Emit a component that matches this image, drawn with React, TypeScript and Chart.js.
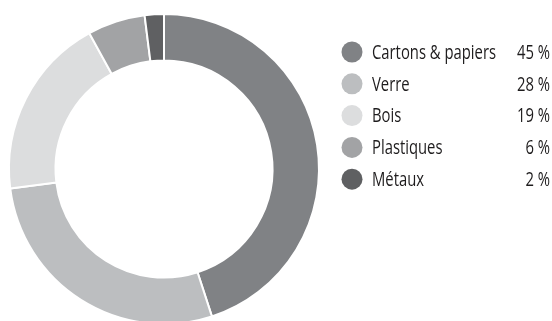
import React, { useEffect, useRef } from "react";
import { Chart, registerables } from "chart.js";

Chart.register(...registerables);

const categories = ["Cartons & papiers", "Verre", "Bois", "Plastiques", "Métaux"];
const shares = [45, 28, 19, 6, 2];
const shareLabels = ["45 %", "28 %", "19 %", "6 %", "2 %"];
const colors = ["#808285", "#bcbec0", "#dcddde", "#a2a3a5", "#5f6062"];

const W = 552;
const H = 340;

const legendPlugin = {
  id: "sideLegend",
  afterDraw(chart: any) {
    const ctx = chart.ctx as CanvasRenderingContext2D;
    const labels = chart.data.labels as string[];
    const ds = chart.data.datasets[0];
    ctx.save();
    ctx.font = "20px 'Open Sans', 'Noto Sans', sans-serif";
    ctx.textBaseline = "middle";
    // condense the humanist face horizontally to mimic a condensed typeface
    const sx = 124 / ctx.measureText(labels[0]).width;
    labels.forEach((lab, i) => {
      const y = 53 + i * 31.8;
      ctx.beginPath();
      ctx.arc(352, y - 1, 10.5, 0, Math.PI * 2);
      ctx.fillStyle = ds.backgroundColor[i];
      ctx.fill();
      ctx.fillStyle = "#1e1c1d";
      ctx.save();
      ctx.translate(372, y);
      ctx.scale(sx, 1);
      ctx.textAlign = "left";
      ctx.fillText(lab, 0, 0);
      ctx.restore();
      ctx.save();
      ctx.translate(550, y);
      ctx.scale(sx, 1);
      ctx.textAlign = "right";
      ctx.fillText(shareLabels[i], 0, 0);
      ctx.restore();
    });
    ctx.restore();
  },
};

export default function App() {
  const ref = useRef<HTMLCanvasElement | null>(null);
  useEffect(() => {
    document.documentElement.style.overflow = "hidden";
    document.body.style.overflow = "hidden";
    const canvas = ref.current!;
    const chart = new Chart(canvas, {
      type: "doughnut",
      data: {
        labels: categories,
        datasets: [
          {
            data: shares,
            backgroundColor: colors,
            borderColor: "#ffffff",
            borderWidth: 2,
            hoverOffset: 0,
          },
        ],
      },
      options: {
        responsive: false,
        animation: false,
        cutout: "70%",
        layout: { padding: { left: 8, right: 232, top: 13, bottom: 15 } },
        plugins: {
          legend: { display: false },
          tooltip: { enabled: false },
        },
      },
      plugins: [legendPlugin],
    });
    return () => chart.destroy();
  }, []);
  return (
    <div style={{ position: "fixed", left: 0, top: 0, width: W, height: H, background: "#fff" }}>
      <canvas ref={ref} width={W} height={H} style={{ width: W, height: H, display: "block" }} />
    </div>
  );
}
